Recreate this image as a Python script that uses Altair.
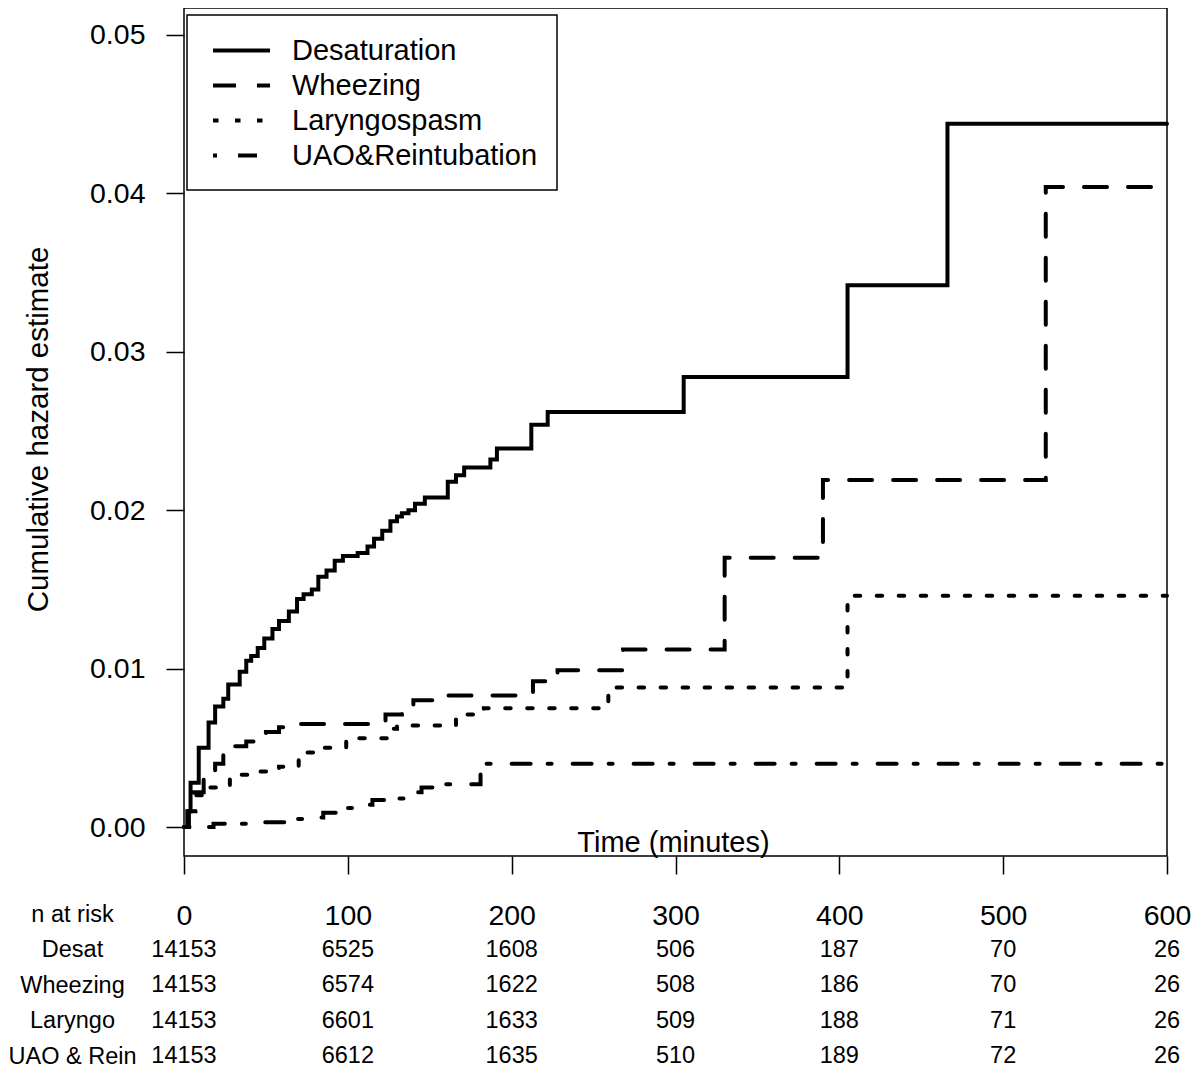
import altair as alt
import pandas as pd

FONT = "Liberation Sans"

series_names = ["Desaturation", "Wheezing", "Laryngospasm", "UAO&Reintubation"]

desat_t = [0, 2, 4, 9, 15, 19, 24, 27, 34, 38, 41, 45, 49, 54, 58, 64, 69, 73, 78, 82, 87, 92, 97,
           106, 112, 116, 121, 126, 130, 133, 137, 141, 147, 161, 166, 171, 187, 191, 212, 222,
           305, 405, 466, 600]
desat_h = [0, 0.0010, 0.0028, 0.0050, 0.0066, 0.0076, 0.0081, 0.0090, 0.0098, 0.0105, 0.0108,
           0.0113, 0.0119, 0.0125, 0.0130, 0.0136, 0.0144, 0.0147, 0.0150, 0.0158, 0.0162, 0.0168,
           0.0171, 0.0173, 0.0177, 0.0182, 0.0187, 0.0193, 0.0196, 0.0198, 0.0200, 0.0204, 0.0208,
           0.0218, 0.0222, 0.0227, 0.0232, 0.0239, 0.0254, 0.0262, 0.0284, 0.0342, 0.0444, 0.0444]

wheeze_t = [0, 3, 6, 12, 19, 24, 31, 38, 50, 58, 68, 123, 133, 140, 160, 213, 228, 268, 330, 390, 526, 600]
wheeze_h = [0, 0.0010, 0.0022, 0.0030, 0.0040, 0.0046, 0.0051, 0.0054, 0.0060, 0.0063, 0.0065,
            0.0071, 0.0073, 0.0080, 0.0083, 0.0092, 0.0099, 0.0112, 0.0170, 0.0219, 0.0404, 0.0404]

laryngo_t = [0, 4, 7, 12, 28, 42, 58, 70, 85, 99, 124, 130, 166, 183, 259, 405, 600]
laryngo_h = [0, 0.0010, 0.0020, 0.0025, 0.0033, 0.0035, 0.0038, 0.0047, 0.0050, 0.0056, 0.0062,
             0.0064, 0.0071, 0.0075, 0.0088, 0.0146, 0.0146]

uao_t = [0, 18, 40, 62, 75, 85, 95, 105, 115, 125, 135, 145, 155, 181, 600]
uao_h = [0, 0.0002, 0.0003, 0.0005, 0.0006, 0.0009, 0.0012, 0.0014, 0.0017, 0.0018, 0.0022,
         0.0025, 0.0027, 0.0040, 0.0040]

# n at risk table
risk_times = [0, 100, 200, 300, 400, 500, 600]
risk_rows = ["n at risk", "Desat", "Wheezing", "Laryngo", "UAO & Rein"]
risk_desat = [14153, 6525, 1608, 506, 187, 70, 26]
risk_wheeze = [14153, 6574, 1622, 508, 186, 70, 26]
risk_laryngo = [14153, 6601, 1633, 509, 188, 71, 26]
risk_uao = [14153, 6612, 1635, 510, 189, 72, 26]

x_ticks = [0, 100, 200, 300, 400, 500, 600]
y_ticks = [0.0, 0.01, 0.02, 0.03, 0.04, 0.05]

recs = []
for name, ts, hs in zip(series_names, [desat_t, wheeze_t, laryngo_t, uao_t],
                        [desat_h, wheeze_h, laryngo_h, uao_h]):
    for t, h in zip(ts, hs):
        recs.append({"series": name, "time": t, "hazard": h})
df = pd.DataFrame(recs)

trecs = []
for row, vals in zip(risk_rows[1:], [risk_desat, risk_wheeze, risk_laryngo, risk_uao]):
    for t, v in zip(risk_times, vals):
        trecs.append({"row": row, "time": t, "n": str(v)})
tdf = pd.DataFrame(trecs)

W, H = 983, 848
x_scale = alt.Scale(domain=[0, 600], nice=False, zero=False)
y_scale = alt.Scale(domain=[-0.00183, 0.0517], nice=False, zero=False)
dash_scale = alt.Scale(domain=series_names,
                       range=[[1, 0], [23, 21], [5.5, 16.5], [4, 21, 19, 17]])

x_axis = alt.Axis(values=x_ticks, format="d", labelFontSize=28.5, labelFont=FONT,
                  labelColor="black", tickSize=18, tickWidth=1.5, tickColor="black",
                  labelPadding=27, domain=False, grid=False, labelOverlap=False,
                  labelFlush=False,
                  title="Time (minutes)", titleFont=FONT, titleFontSize=29,
                  titleFontWeight="normal", titleColor="black",
                  titleX=489, titleY=-5, titleBaseline="alphabetic",
                  titleAlign="center")

lines = alt.Chart(df).mark_line(
    interpolate="step-after", strokeWidth=4, color="black", strokeCap="round"
).encode(
    x=alt.X("time:Q", scale=x_scale, axis=x_axis),
    y=alt.Y("hazard:Q", scale=y_scale,
            axis=alt.Axis(values=y_ticks, format=".2f", labelFontSize=28.5, labelFont=FONT,
                          labelColor="black", tickSize=18, tickWidth=1.5, tickColor="black",
                          labelPadding=21, domain=False, grid=False, labelOverlap=False,
                          labelFlush=False,
                          title="Cumulative hazard estimate", titleFont=FONT,
                          titleFontSize=29.5, titleFontWeight="normal", titleColor="black",
                          titleX=-146, titleY=421, titleBaseline="middle",
                          titleAlign="center", titleAngle=270)),
    strokeDash=alt.StrokeDash(
        "series:N", scale=dash_scale, sort=series_names,
        legend=alt.Legend(title=None, orient="none", legendX=3, legendY=7,
                          fillColor="white", strokeColor="black", padding=19,
                          labelFontSize=29, labelFont=FONT, labelColor="black",
                          symbolType="M-2,0H2", symbolSize=812, symbolStrokeWidth=4,
                          symbolStrokeColor="black", labelOffset=34, rowPadding=3,
                          symbolOffset=19, labelLimit=0)),
)

table = alt.Chart(tdf).mark_text(fontSize=23.5, font=FONT, color="black",
                                 align="center", baseline="middle").encode(
    x=alt.X("time:Q", scale=x_scale, axis=x_axis),
    y=alt.Y("row:N",
            scale=alt.Scale(type="point", domain=risk_rows, range=[906, 1048], padding=0),
            axis=alt.Axis(orient="left", labelAlign="center", labelPadding=112,
                          ticks=False, tickSize=0, domain=False, grid=False,
                          labelFontSize=23.5, labelFont=FONT, labelColor="black",
                          labelOverlap=False, title=None, labelBaseline="middle")),
    text="n:N",
)

chart = alt.layer(lines, table).resolve_scale(y="independent").properties(
    width=W, height=H,
    padding={"left": 0, "top": 0, "right": 0, "bottom": 0},
).configure_view(
    stroke="black", strokeWidth=1.5
).configure_legend(
    strokeWidth=1.5
)

chart.save("out.html", embed_options={"renderer": "svg", "actions": False})
